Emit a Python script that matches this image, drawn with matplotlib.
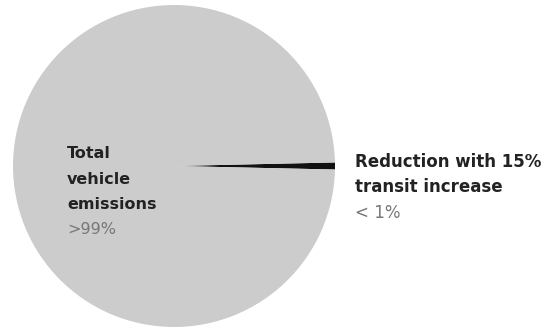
import matplotlib
matplotlib.use('Agg')
from matplotlib import pyplot as plt

# share of emissions (small wedge first so it sits at 3 o'clock)
sizes = [0.7, 99.3]
colors = ['#111111', '#cccccc']
label_lines = [['Reduction with 15%', 'transit increase'],
               ['Total', 'vehicle', 'emissions']]
pct_labels = ['< 1%', '>99%']


def main():
    plt.rcParams['font.family'] = ['DejaVu Sans']
    W, H = 553, 327
    fig = plt.figure(figsize=(W / 100, H / 100), dpi=100)
    ax = fig.add_axes([0, 0, 1, 1])

    # work in pixel units, y pointing up
    cx, cy, r = 174, H - 166, 161
    start = -sizes[0] / 100 * 360 / 2
    ax.pie(sizes, colors=colors, radius=r, center=(cx, cy),
           startangle=start, counterclock=True,
           wedgeprops=dict(linewidth=0))
    ax.set_xlim(0, W)
    ax.set_ylim(0, H)
    ax.set_aspect('equal')
    ax.axis('off')

    step = 25.5
    # label positions (x, first baseline from top, font size)
    spots = [(355, 167, 12), (67, 158, 11.5)]
    for lines, pct, (x, y0, fs) in zip(label_lines, pct_labels, spots):
        for i, line in enumerate(lines):
            ax.text(x, H - (y0 + i * step), line, fontsize=fs,
                    fontweight='bold', color='#222222', va='baseline')
        ax.text(x, H - (y0 + len(lines) * step), pct, fontsize=fs,
                color='#777777', va='baseline')

    fig.savefig('out.png', dpi=100)


if __name__ == '__main__':
    main()
